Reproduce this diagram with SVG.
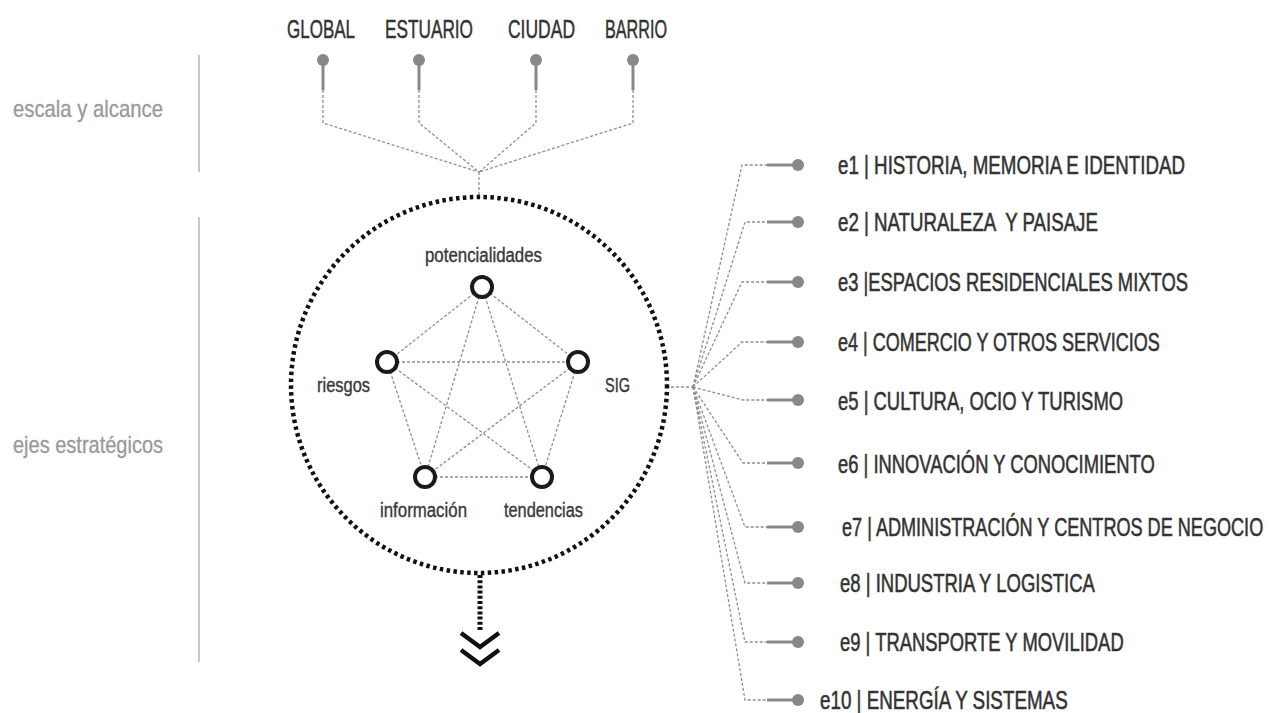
<svg xmlns="http://www.w3.org/2000/svg" width="1272" height="713" viewBox="0 0 1272 713">
<style>
text{font-family:"Liberation Sans",Arial,sans-serif}
.top{font-size:26px;fill:#333;stroke:#333;stroke-width:0.5}
.side{font-size:24px;fill:#999;stroke:#999;stroke-width:0.3}
.in{font-size:20px;fill:#3a3a3a;stroke:#3a3a3a;stroke-width:0.4}
.ax{font-size:25px;fill:#333;stroke:#333;stroke-width:0.55}
.dash{fill:none;stroke:#8f8f8f;stroke-width:1.3;stroke-dasharray:3 2}
.stem{stroke:#888;stroke-width:3}
.pin{fill:#888}
.node{fill:#fff;stroke:#1a1a1a;stroke-width:4}
.sep{stroke:#aaa;stroke-width:1.3}
</style>
<rect width="1272" height="713" fill="#fff"/>
<g id="side-labels">
<line class="sep" x1="199" y1="55" x2="199" y2="172"/>
<line class="sep" x1="199" y1="217" x2="199" y2="662"/>
<text class="side" x="13" y="117" textLength="150" lengthAdjust="spacingAndGlyphs">escala y alcance</text>
<text class="side" x="13" y="453" textLength="150" lengthAdjust="spacingAndGlyphs">ejes estratégicos</text>
</g>
<g id="scales">
<text class="top" x="287" y="38" textLength="68" lengthAdjust="spacingAndGlyphs">GLOBAL</text>
<text class="top" x="385" y="38" textLength="88" lengthAdjust="spacingAndGlyphs">ESTUARIO</text>
<text class="top" x="508" y="38" textLength="67" lengthAdjust="spacingAndGlyphs">CIUDAD</text>
<text class="top" x="605" y="38" textLength="62" lengthAdjust="spacingAndGlyphs">BARRIO</text>
<g id="pin-global"><line class="stem" x1="323" y1="60" x2="323" y2="90"/><circle class="pin" cx="323" cy="60" r="6"/></g>
<g id="pin-estuario"><line class="stem" x1="419" y1="60" x2="419" y2="90"/><circle class="pin" cx="419" cy="60" r="6"/></g>
<g id="pin-ciudad"><line class="stem" x1="536" y1="60" x2="536" y2="90"/><circle class="pin" cx="536" cy="60" r="6"/></g>
<g id="pin-barrio"><line class="stem" x1="633" y1="60" x2="633" y2="90"/><circle class="pin" cx="633" cy="60" r="6"/></g>
</g>
<g id="connectors">
<polyline class="dash" points="323,90 323,123 479,172"/>
<polyline class="dash" points="419,90 419,123 479,172"/>
<polyline class="dash" points="536,90 536,123 479,172"/>
<polyline class="dash" points="633,90 633,123 479,172"/>
<line class="dash" x1="479" y1="172" x2="479" y2="197"/>
<line class="dash" x1="666" y1="387" x2="693" y2="387"/>
<g id="inner-links">
<line class="dash" x1="482" y1="287" x2="387" y2="362"/>
<line class="dash" x1="482" y1="287" x2="578" y2="362"/>
<line class="dash" x1="482" y1="287" x2="425" y2="477"/>
<line class="dash" x1="482" y1="287" x2="542" y2="477"/>
<line class="dash" x1="387" y1="362" x2="578" y2="362"/>
<line class="dash" x1="387" y1="362" x2="425" y2="477"/>
<line class="dash" x1="387" y1="362" x2="542" y2="477"/>
<line class="dash" x1="578" y1="362" x2="425" y2="477"/>
<line class="dash" x1="578" y1="362" x2="542" y2="477"/>
<line class="dash" x1="425" y1="477" x2="542" y2="477"/>
</g>
<g id="axis-links">
<polyline class="dash" points="693,387 742,165 767,165"/>
<polyline class="dash" points="693,387 745,222 767,222"/>
<polyline class="dash" points="693,387 742,282 767,282"/>
<polyline class="dash" points="693,387 742,342 767,342"/>
<polyline class="dash" points="693,387 743,400 767,400"/>
<polyline class="dash" points="693,387 743,463 767,463"/>
<polyline class="dash" points="693,387 745,527 767,527"/>
<polyline class="dash" points="693,387 745,583 767,583"/>
<polyline class="dash" points="693,387 745,642 767,642"/>
<polyline class="dash" points="693,387 745,700 767,700"/>
</g>
<line x1="480" y1="575" x2="480" y2="632" stroke="#111" stroke-width="5" stroke-dasharray="3 2.2"/>
<polyline points="461,633 480,647 499,633" fill="none" stroke="#111" stroke-width="4.5"/>
<polyline points="461,650 480,664 499,650" fill="none" stroke="#111" stroke-width="4.5"/>
</g>
<g id="core">
<circle cx="479" cy="385" r="188" fill="none" stroke="#111" stroke-width="4.5" stroke-dasharray="3.5 3.4"/>
</g>
<g id="node-potencialidades"><circle class="node" cx="482" cy="287" r="10"/><text class="in" x="425" y="262" textLength="117" lengthAdjust="spacingAndGlyphs">potencialidades</text></g>
<g id="node-riesgos"><circle class="node" cx="387" cy="362" r="10"/><text class="in" x="317" y="392" textLength="53" lengthAdjust="spacingAndGlyphs">riesgos</text></g>
<g id="node-sig"><circle class="node" cx="578" cy="362" r="10"/><text class="in" x="605" y="392" textLength="25" lengthAdjust="spacingAndGlyphs">SIG</text></g>
<g id="node-informacion"><circle class="node" cx="425" cy="477" r="10"/><text class="in" x="380" y="517" textLength="87" lengthAdjust="spacingAndGlyphs">información</text></g>
<g id="node-tendencias"><circle class="node" cx="542" cy="477" r="10"/><text class="in" x="504" y="517" textLength="79" lengthAdjust="spacingAndGlyphs">tendencias</text></g>
<g id="e1"><line class="stem" x1="767" y1="165" x2="798" y2="165"/><circle class="pin" cx="798" cy="165" r="6"/><text class="ax" transform="translate(838,174) scale(0.72,1)" textLength="482" lengthAdjust="spacingAndGlyphs">e1 | HISTORIA, MEMORIA E IDENTIDAD</text></g>
<g id="e2"><line class="stem" x1="767" y1="222" x2="798" y2="222"/><circle class="pin" cx="798" cy="222" r="6"/><text class="ax" transform="translate(838,231) scale(0.72,1)" textLength="361" lengthAdjust="spacingAndGlyphs" xml:space="preserve">e2 | NATURALEZA  Y PAISAJE</text></g>
<g id="e3"><line class="stem" x1="767" y1="282" x2="798" y2="282"/><circle class="pin" cx="798" cy="282" r="6"/><text class="ax" transform="translate(838,291) scale(0.72,1)" textLength="486" lengthAdjust="spacingAndGlyphs">e3 |ESPACIOS RESIDENCIALES MIXTOS</text></g>
<g id="e4"><line class="stem" x1="767" y1="342" x2="798" y2="342"/><circle class="pin" cx="798" cy="342" r="6"/><text class="ax" transform="translate(838,351) scale(0.72,1)" textLength="447" lengthAdjust="spacingAndGlyphs">e4 | COMERCIO Y OTROS SERVICIOS</text></g>
<g id="e5"><line class="stem" x1="767" y1="400" x2="798" y2="400"/><circle class="pin" cx="798" cy="400" r="6"/><text class="ax" transform="translate(838,410) scale(0.72,1)" textLength="396" lengthAdjust="spacingAndGlyphs">e5 | CULTURA, OCIO Y TURISMO</text></g>
<g id="e6"><line class="stem" x1="767" y1="463" x2="798" y2="463"/><circle class="pin" cx="798" cy="463" r="6"/><text class="ax" transform="translate(838,473) scale(0.72,1)" textLength="440" lengthAdjust="spacingAndGlyphs">e6 | INNOVACIÓN Y CONOCIMIENTO</text></g>
<g id="e7"><line class="stem" x1="767" y1="527" x2="798" y2="527"/><circle class="pin" cx="798" cy="527" r="6"/><text class="ax" transform="translate(842,536) scale(0.72,1)" textLength="585" lengthAdjust="spacingAndGlyphs">e7 | ADMINISTRACIÓN Y CENTROS DE NEGOCIO</text></g>
<g id="e8"><line class="stem" x1="767" y1="583" x2="798" y2="583"/><circle class="pin" cx="798" cy="583" r="6"/><text class="ax" transform="translate(840,592) scale(0.72,1)" textLength="354" lengthAdjust="spacingAndGlyphs">e8 | INDUSTRIA Y LOGISTICA</text></g>
<g id="e9"><line class="stem" x1="767" y1="642" x2="798" y2="642"/><circle class="pin" cx="798" cy="642" r="6"/><text class="ax" transform="translate(840,651) scale(0.72,1)" textLength="394" lengthAdjust="spacingAndGlyphs">e9 | TRANSPORTE Y MOVILIDAD</text></g>
<g id="e10"><line class="stem" x1="767" y1="700" x2="798" y2="700"/><circle class="pin" cx="798" cy="700" r="6"/><text class="ax" transform="translate(820,709) scale(0.72,1)" textLength="344" lengthAdjust="spacingAndGlyphs">e10 | ENERGÍA Y SISTEMAS</text></g>
</svg>
